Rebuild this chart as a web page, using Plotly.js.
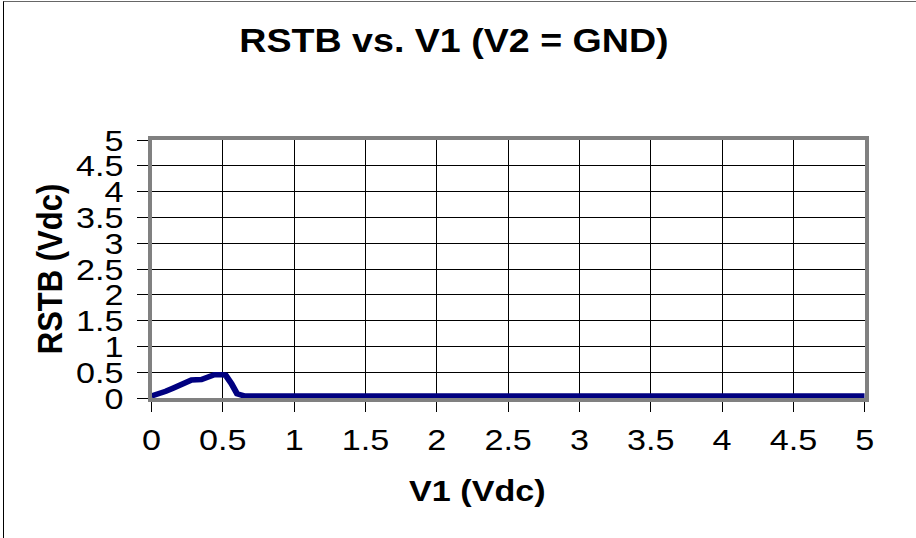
<!DOCTYPE html>
<html>
<head>
<meta charset="utf-8">
<script src="https://cdn.plot.ly/plotly-3.0.1.min.js"></script>
<style>
html,body{margin:0;padding:0;background:#fff;overflow:hidden;}
#wrap{position:relative;width:916px;height:538px;overflow:hidden;}
#frame{position:absolute;left:3px;top:1px;width:913px;height:540px;border-left:1px solid #000;border-top:1px solid #666;pointer-events:none;}
#chart{position:absolute;left:0;top:0;width:804px;height:538px;transform:scaleX(1.1393);transform-origin:0 0;}
</style>
</head>
<body>
<div id="wrap"><div id="chart"></div><div id="frame"></div></div>
<script>
var v1 = [0, 0.05, 0.1, 0.15, 0.2, 0.25, 0.28, 0.35, 0.4, 0.44, 0.5, 0.52, 0.56, 0.6, 0.65, 0.7, 1.0, 1.5, 2.0, 2.5, 3.0, 3.5, 4.0, 4.5, 5.0];
var rstb = [0.04, 0.08, 0.13, 0.19, 0.25, 0.31, 0.35, 0.36, 0.41, 0.45, 0.45, 0.44, 0.28, 0.08, 0.04, 0.04, 0.04, 0.04, 0.04, 0.04, 0.04, 0.04, 0.04, 0.04, 0.04];
var tickVals = [0, 0.5, 1, 1.5, 2, 2.5, 3, 3.5, 4, 4.5, 5];
var tickText = ['0', '0.5', '1', '1.5', '2', '2.5', '3', '3.5', '4', '4.5', '5'];
var chartTitle = 'RSTB vs. V1 (V2 = GND)';
var xTitle = 'V1 (Vdc)';
var yTitle = 'RSTB (Vdc)';

var trace = {
  x: v1, y: rstb, type: 'scatter', mode: 'lines',
  line: {color: '#000080', width: 5.5}, hoverinfo: 'skip', showlegend: false, cliponaxis: false
};
var font = 'Liberation Sans, Arial, sans-serif';
var axisCommon = {
  tickvals: tickVals, ticktext: tickText,
  showgrid: true, gridcolor: '#000', gridwidth: 1,
  zeroline: false,
  showline: true, linecolor: '#808080', mirror: true,
  ticks: 'outside', tickcolor: '#000', tickwidth: 1,
  tickfont: {family: font, size: 30, color: '#000'},
  fixedrange: true
};
var layout = {
  width: 804, height: 538,
  margin: {l: 133, r: 45, t: 140, b: 140, pad: 0},
  paper_bgcolor: '#fff', plot_bgcolor: '#fff',
  title: {text: '<b>' + chartTitle + '</b>', x: 0.4956, xref: 'container', xanchor: 'center', y: 0.9257, yanchor: 'middle',
          font: {family: font, size: 33, color: '#000'}},
  xaxis: Object.assign({}, axisCommon, {range: [0, 5], linewidth: 4, ticklen: 10, ticklabelstandoff: 2}),
  yaxis: Object.assign({}, axisCommon, {range: [0, 5], linewidth: 3.5, ticklen: 9, ticklabelstandoff: 6,
          title: {text: '<b>' + yTitle + '</b>', standoff: 3, font: {family: font, size: 31, color: '#000'}}}),
  annotations: [{
    text: '<b>' + xTitle + '</b>', xref: 'paper', yref: 'paper', x: 0.4576, y: -0.36,
    xanchor: 'center', yanchor: 'middle', showarrow: false,
    font: {family: font, size: 30, color: '#000'}
  }]
};
Plotly.newPlot('chart', [trace], layout, {displayModeBar: false, staticPlot: true});
</script>
</body>
</html>
